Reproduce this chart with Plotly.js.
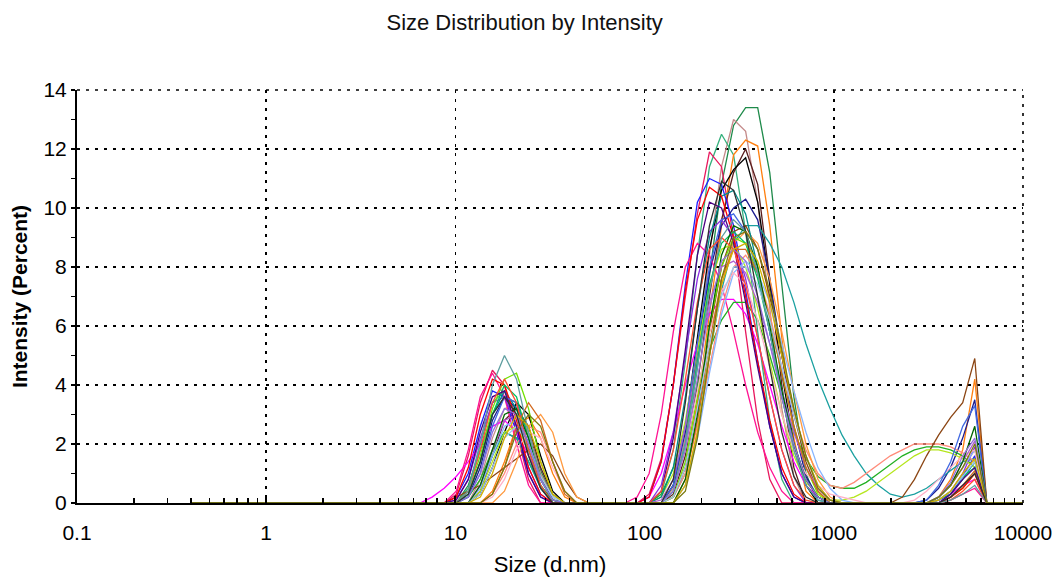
<!DOCTYPE html>
<html>
<head>
<meta charset="utf-8">
<script src="https://cdn.plot.ly/plotly-3.0.1.min.js"></script>
<style>html,body{margin:0;padding:0;background:#fff;}#chart{width:1062px;height:580px;}</style>
</head>
<body>
<div id="chart"></div>
<script>
// Size bins (d.nm), 70 log-spaced classes 0.4 .. 10000
const sizes = [0.4,0.4632,0.5365,0.6213,0.7195,0.8332,0.9649,1.117,1.294,1.499,
  1.736,2.01,2.328,2.696,3.122,3.615,4.187,4.849,5.615,6.503,
  7.531,8.721,10.1,11.7,13.54,15.69,18.17,21.04,24.36,28.21,
  32.67,37.84,43.82,50.75,58.77,68.06,78.82,91.28,105.7,122.4,
  141.8,164.2,190.1,220.2,255.0,295.3,342.0,396.1,458.7,531.2,
  615.1,712.4,825.0,955.4,1106,1281,1484,1718,1990,2305,
  2669,3091,3580,4145,4801,5560,6439,7456,8635,10000];

// Intensity (%) for bins 7.53 nm .. 7456 nm (bins 20..67); all other bins are 0
// layout of each record: 14 values (7.5-50.8 nm), 24 values (58.8-1718 nm), 10 values (1990-7456 nm)
const r01 = [0,0,0,0.6,1.8,3.0,3.6,3.4,2.4,1.1,0.2,0,0,0, 0,0,0,0,0,0,0.4,2.0,4.6,7.8,10.8,12.8,13.4,13.4,11.2,7.4,3.6,1.0,0,0,0,0,0,0, 0,0,0,0,0,0,0,0,0,0];
const r02 = [0,0,0,0,0.8,2.2,3.2,3.3,2.4,1.0,0.2,0,0,0, 0,0,0,0,0,0,0.5,2.2,5.0,8.4,11.4,13.0,12.6,10.2,6.6,3.2,0.9,0,0,0,0,0,0,0, 0,0,0,0,0,0,0,0,0,0];
const r03 = [0,0,0,0.5,2.0,3.4,3.8,3.0,1.6,0.5,0,0,0,0, 0,0,0,0,0,0.3,1.8,4.8,8.4,11.4,12.5,11.8,9.2,5.8,2.8,0.8,0,0,0,0,0,0,0,0, 0,0,0,0,0,0,0,0,0,0];
const r04 = [0,0,0.3,1.6,3.4,4.5,4.0,2.4,0.8,0,0,0,0,0, 0,0,0,0,0.3,1.5,4.0,7.0,9.8,11.9,11.4,9.0,5.8,2.8,0.8,0,0,0,0,0,0,0,0,0, 0,0,0,0,0,0,0,0,0,0];
const r05 = [0,0,0,0,0,0.4,1.4,2.6,2.9,2.2,1.0,0.2,0,0, 0,0,0,0,0,0,0.2,1.2,3.4,6.4,9.4,11.8,12.3,12.1,9.4,5.6,2.2,0.4,0,0,0,0,0,0, 0,0,0,0,0.2,0.8,1.8,4.2,0,0];
const r06 = [0,0,0,0,0.4,1.6,2.8,3.2,2.6,1.2,0.3,0,0,0, 0,0,0,0,0,0,0.3,1.6,4.0,7.0,9.6,11.2,12.0,10.8,7.6,4.0,1.2,0,0,0,0,0,0,0, 0,0,0,0,0,0,0,0,0,0];
const r07 = [0,0,0,0,0.3,1.2,2.4,3.4,3.0,1.6,0.4,0,0,0, 0,0,0,0,0,0,0.6,2.6,5.6,8.6,10.6,11.3,11.7,10.2,7.4,4.4,2.0,0.6,0,0,0,0,0,0, 0,0,0,0,0,0,0,0,0,0];
const r08 = [0,0,0.2,1.0,2.6,3.8,3.6,2.4,1.0,0.2,0,0,0,0, 0,0,0,0,0.2,1.4,4.0,7.4,10.2,11.0,10.8,9.4,7.2,4.8,2.6,1.0,0.2,0,0,0,0,0,0,0, 0,0,0,0,0,0.3,0.9,1.6,0,0];
const r09 = [0,0,0,0.2,1.2,2.8,3.6,3.2,2.0,0.8,0.1,0,0,0, 0,0,0,0,0,0,0.6,2.4,5.2,7.8,9.4,10.0,10.3,9.6,7.6,5.0,2.6,0.9,0.2,0,0,0,0,0, 0,0,0,0.1,0.5,1.2,2.2,3.5,0,0];
const r10 = [0.2,0.5,0.9,1.4,2.0,2.6,2.8,2.4,1.6,0.8,0.2,0,0,0, 0,0,0,0,0.2,1.0,2.4,4.0,5.4,6.4,6.9,6.9,6.4,5.4,4.0,2.6,1.4,0.6,0.2,0,0,0,0,0, 0,0,0,0,0.1,0.3,0.6,0.8,0,0];
const r11 = [0,0,0.4,1.8,3.6,4.4,3.6,2.0,0.6,0,0,0,0,0, 0,0,0,0.2,1.0,3.0,5.8,8.0,8.8,8.4,7.4,5.8,4.0,2.4,1.2,0.4,0,0,0,0,0,0,0,0, 0,0,0,0,0,0.1,0.3,0.5,0,0];
const r12 = [0,0,0,0.2,0.8,1.8,2.4,2.2,1.4,0.6,0.1,0,0,0, 0,0,0,0,0,0.3,1.2,2.6,4.0,5.2,6.2,6.8,6.8,6.2,5.0,3.6,2.4,1.5,0.9,0.6,0.5,0.5,0.7,1.0, 1.3,1.6,1.8,1.9,1.9,1.8,1.6,1.2,0,0];
const r13 = [0,0,0,0,0.6,1.6,2.4,2.2,1.4,0.5,0,0,0,0, 0,0,0,0,0,0,0.2,1.0,2.8,5.0,7.2,8.8,9.4,9.4,8.8,8.0,6.8,5.4,4.2,3.2,2.3,1.6,1.0,0.6, 0.3,0.2,0.3,0.5,0.8,1.1,1.4,1.5,0,0];
const r14 = [0,0,0,0,0,0.3,1.0,2.0,2.6,2.4,1.4,0.4,0,0, 0,0,0,0,0,0,0.2,1.0,2.6,4.6,6.6,8.0,8.4,7.8,6.4,4.6,3.0,1.8,1.0,0.6,0.5,0.7,1.0,1.3, 1.6,1.8,2.0,2.0,2.0,1.9,1.7,1.4,0,0];
const r15 = [0,0,0.2,0.4,0.6,0.9,1.2,1.5,1.8,2.0,1.6,0.8,0.2,0, 0,0,0,0,0,0,0.2,1.2,3.2,5.8,8.0,9.2,9.4,8.6,7.0,5.0,3.0,1.4,0.4,0,0,0,0,0, 0,0.2,0.8,1.6,2.3,2.9,3.4,4.9,0,0];
const r16 = [0,0,0,0,0,0,0.4,1.4,2.6,3.0,2.4,1.0,0.2,0, 0,0,0,0,0,0,0,0.6,2.4,5.0,7.4,8.8,9.2,8.8,7.6,5.8,3.8,2.0,0.8,0.2,0,0,0,0, 0,0,0,0,0.2,0.6,1.2,1.8,0,0];
const r17 = [0,0,0.1,0.8,2.2,3.4,3.6,2.6,1.2,0.3,0,0,0,0, 0,0,0,0,0,0.6,2.4,5.0,7.6,9.2,9.6,9.0,7.6,5.6,3.6,1.8,0.6,0,0,0,0,0,0,0, 0,0,0,0,0.1,0.4,1.0,1.9,0,0];
const r18 = [0,0,0,0.4,1.6,3.2,4.2,4.4,3.2,1.4,0.3,0,0,0, 0,0,0,0,0,0,0.2,1.4,3.6,6.0,8.0,9.0,8.8,7.8,6.2,4.4,2.6,1.2,0.3,0,0,0,0,0, 0,0,0,0,0,0.2,0.5,1.0,0,0];
const r19 = [0,0,0,0,0.4,1.4,2.4,2.6,1.8,0.8,0.2,0,0,0, 0,0,0,0,0,0.2,1.0,2.8,5.2,7.4,8.6,8.8,8.0,6.6,4.8,3.0,1.6,0.7,0.3,0.1,0.1,0.2,0.4,0.7, 1.0,1.3,1.6,1.8,1.8,1.7,1.5,1.2,0,0];
const r20 = [0,0,0,0,0.5,1.6,2.6,2.8,2.0,0.8,0.2,0,0,0, 0,0,0,0,0,0,0,0.6,2.2,4.4,6.4,7.8,8.2,7.8,6.8,5.4,3.8,2.4,1.2,0.5,0.1,0,0,0, 0,0,0,0,0.2,0.6,1.2,1.8,0,0];
const r21 = [0,0,0,0.3,1.4,3.0,3.8,3.2,1.8,0.6,0,0,0,0, 0,0,0,0,0,0.2,1.2,3.6,6.6,9.0,10.4,10.6,9.8,8.0,5.8,3.6,1.8,0.6,0.1,0,0,0,0,0, 0,0,0,0,0.1,0.3,0.8,1.4,0,0];
const r22 = [0,0,0.2,1.2,3.0,4.2,4.0,2.8,1.2,0.3,0,0,0,0, 0,0,0,0,0.2,1.4,4.0,7.2,9.6,10.7,10.4,9.0,7.0,4.8,2.8,1.2,0.3,0,0,0,0,0,0,0, 0,0,0,0,0,0.2,0.5,1.0,0,0];
const r24 = [0,0,0,0,0,0.2,0.8,1.8,2.4,2.2,1.2,0.4,0,0, 0,0,0,0,0,0,0.4,1.8,3.8,5.8,7.2,7.8,7.4,6.2,4.6,3.0,1.8,1.0,0.6,0.3,0.2,0.1,0,0, 0,0,0.1,0.4,0.8,1.2,1.6,1.8,0,0];
const r25 = [0,0,0,0.2,1.0,2.6,3.6,3.4,2.2,0.8,0.1,0,0,0, 0,0,0,0,0,0,0.6,2.6,5.4,8.0,9.6,9.8,9.2,7.8,5.8,3.8,2.0,0.8,0.2,0,0,0,0,0, 0,0,0,0.1,0.6,1.4,2.6,3.3,0,0];
const r26 = [0,0,0,0,0.6,1.8,2.8,3.0,2.0,0.8,0.1,0,0,0, 0,0,0,0,0,0.1,0.8,2.6,4.8,6.8,8.0,8.2,7.8,6.8,5.4,3.8,2.4,1.2,0.5,0.1,0,0,0,0, 0,0,0,0,0.2,0.6,1.4,2.1,0,0];
const r27 = [0,0,0,0.3,1.4,3.0,4.0,3.6,2.2,0.8,0.1,0,0,0, 0,0,0,0,0,0,0.4,2.0,4.8,7.4,8.8,9.2,8.8,7.6,5.8,3.8,2.0,0.8,0.2,0,0,0,0,0, 0,0,0,0,0.1,0.4,0.9,1.2,0,0];
const r28 = [0,0,0,0,0,0.3,1.2,2.6,3.4,2.8,1.4,0.3,0,0, 0,0,0,0,0,0,0,0.8,2.8,5.4,7.6,8.6,8.6,7.8,6.2,4.4,2.6,1.2,0.4,0,0,0,0,0, 0,0,0,0,0,0.2,0.6,1.1,0,0];
const r29 = [0,0,0,0,0.6,1.8,3.0,3.2,2.2,0.9,0.1,0,0,0, 0,0,0,0,0,0,0,0.8,3.0,6.0,8.4,9.4,9.2,8.0,6.0,3.8,2.0,0.8,0.2,0,0,0,0,0, 0,0,0,0,0.2,0.6,1.4,2.6,0,0];
const r30 = [0,0,0,0,0.3,1.2,2.2,2.6,2.0,0.9,0.2,0,0,0, 0,0,0,0,0,0,0.2,1.2,3.2,5.4,7.0,8.0,8.0,7.4,6.2,4.6,3.0,1.6,0.6,0.1,0,0,0,0, 0,0,0,0,0.1,0.4,0.9,1.4,0,0];
const r31 = [0,0,0.1,0.8,2.4,3.6,3.8,2.6,1.0,0.2,0,0,0,0, 0,0,0,0,0,0.4,2.2,5.2,8.4,10.2,10.0,8.8,6.8,4.6,2.6,1.0,0.2,0,0,0,0,0,0,0, 0,0,0,0,0,0.3,0.8,1.2,0,0];
const r32 = [0,0,0,0.4,1.8,3.4,4.2,3.4,1.8,0.6,0,0,0,0, 0,0,0,0,0,0.4,1.8,4.2,6.8,8.6,9.0,8.6,7.4,5.6,3.6,1.8,0.6,0.1,0,0,0,0,0,0, 0,0,0,0,0,0.1,0.4,0.8,0,0];
const r33 = [0,0,0,0.4,2.0,4.0,5.0,4.2,2.4,0.8,0.1,0,0,0, 0,0,0,0,0,0,0.4,2.0,4.6,7.2,9.0,9.6,9.2,7.8,5.8,3.6,1.8,0.6,0.1,0,0,0,0,0, 0,0,0,0,0,0.1,0.3,0.6,0,0];
const r34 = [0,0,0,0.2,1.0,2.4,3.2,3.0,2.0,0.8,0.1,0,0,0, 0,0,0,0,0,0,0.4,1.8,4.2,6.6,8.2,8.6,8.2,7.0,5.4,3.6,2.0,0.8,0.2,0,0,0,0,0, 0,0,0,0,0.2,0.7,1.6,2.2,0,0];
const r35 = [0,0,0,0,0.2,1.0,2.2,3.0,2.6,1.4,0.3,0,0,0, 0,0,0,0,0,0,0,0.6,2.4,5.0,7.4,8.6,8.8,8.2,6.8,5.0,3.2,1.6,0.6,0.1,0,0,0,0, 0,0,0,0,0.1,0.4,1.0,1.5,0,0];
const r36 = [0,0,0,0.3,1.4,3.0,3.6,3.0,1.6,0.5,0,0,0,0, 0,0,0,0,0,0,0.8,3.4,6.6,9.4,10.9,10.6,9.2,7.0,4.6,2.4,0.9,0.2,0,0,0,0,0,0, 0,0,0,0,0,0.2,0.6,1.0,0,0];
const r23 = [0,0,0,0,0,0.3,1.2,2.4,3.0,2.6,1.4,0.4,0,0, 0,0,0,0,0,0,0,0.4,2.2,5.0,7.6,9.0,9.2,8.6,7.2,5.2,3.2,1.6,0.5,0.1,0,0,0,0, 0,0,0,0,0.2,0.6,1.2,2.0,0,0];

const records = [r01,r02,r03,r04,r05,r06,r07,r08,r09,r10,r11,r12,r13,r14,r15,r16,r17,r18,
                 r19,r20,r21,r22,r24,r25,r26,r27,r28,r29,r30,r31,r32,r33,r34,r35,r36,r23];
const colors = ['#1e8a4a','#c48a8a','#34b07c','#e8175d','#ff7f0e','#5a1e1e','#000000','#1f1fff','#1b1b8f',
                '#ff00ff','#ff1493','#22b022','#1aa0a0','#ff8c7a','#8b4513','#ff9a40','#8a2be2','#70e000',
                '#b5e61d','#87b5ff','#008b8b','#ff0000','#ffb0c8','#4169e1','#b060d0','#00c060','#d2691e',
                '#006400','#9ec8f0','#4b0082','#ff5030','#5f9ea0','#9370db','#d4b000','#303030','#7a7a10'];
const startBin = 20;

const traces = records.map((seg, i) => {
  const y = sizes.map((_, k) => (k >= startBin && k < startBin + seg.length) ? seg[k - startBin] : 0);
  return {x: sizes, y: y, type: 'scatter', mode: 'lines',
          line: {color: colors[i], width: 1.3}, name: 'Record ' + (i + 1), showlegend: false,
          hoverinfo: 'x+y'};
});

const font = 'Liberation Sans, Arial, sans-serif';
const minorX = [0.2,0.3,0.4,0.5,0.6,0.7,0.8,0.9,2,3,4,5,6,7,8,9,20,30,40,50,60,70,80,90,
                200,300,400,500,600,700,800,900,2000,3000,4000,5000,6000,7000,8000,9000];
const layout = {
  width: 1062, height: 580,
  margin: {l: 77, r: 39, t: 90, b: 77},
  paper_bgcolor: '#fff', plot_bgcolor: '#fff',
  font: {family: font, color: '#000', size: 21},
  title: {text: 'Size Distribution by Intensity', font: {family: font, size: 22, color: '#111'},
          x: 0.494, xref: 'container', xanchor: 'center', y: 0.962, yref: 'container', yanchor: 'middle'},
  xaxis: {type: 'log', range: [-1, 4],
          tickvals: [0.1, 1, 10, 100, 1000, 10000], ticktext: ['0.1', '1', '10', '100', '1000', '10000'],
          showline: true, linecolor: '#000', linewidth: 2, mirror: false,
          ticks: 'inside', ticklen: 7, tickwidth: 2, tickcolor: '#000', ticklabelstandoff: 10,
          minor: {tickvals: minorX, ticks: 'inside', ticklen: 5, tickwidth: 1.5, tickcolor: '#000', showgrid: false},
          showgrid: true, gridcolor: '#000', gridwidth: 1.6, griddash: '3px,6px',
          zeroline: false, tickfont: {size: 21},
          title: {text: 'Size (d.nm)', font: {size: 22}, standoff: 13}},
  yaxis: {range: [0, 14], dtick: 2, tick0: 0,
          showline: true, linecolor: '#000', linewidth: 2, mirror: false,
          ticks: 'outside', ticklen: 4, tickwidth: 2, tickcolor: '#000',
          minor: {dtick: 1, ticks: 'outside', ticklen: 4, tickwidth: 1.5, tickcolor: '#000', showgrid: false},
          showgrid: true, gridcolor: '#000', gridwidth: 1.6, griddash: '3px,6px',
          zeroline: false, tickfont: {size: 21},
          title: {text: '<b>Intensity (Percent)</b>', font: {size: 21}, standoff: 10}},
  shapes: [
    {type: 'line', xref: 'paper', yref: 'paper', x0: 0, x1: 1, y0: 1, y1: 1,
     line: {color: '#000', width: 1.6, dash: '3px,6px'}},
    {type: 'line', xref: 'paper', yref: 'paper', x0: 1, x1: 1, y0: 0, y1: 1,
     line: {color: '#000', width: 1.6, dash: '3px,6px'}}
  ]
};

Plotly.newPlot('chart', traces, layout, {displayModeBar: false, staticPlot: true});
</script>
</body>
</html>
